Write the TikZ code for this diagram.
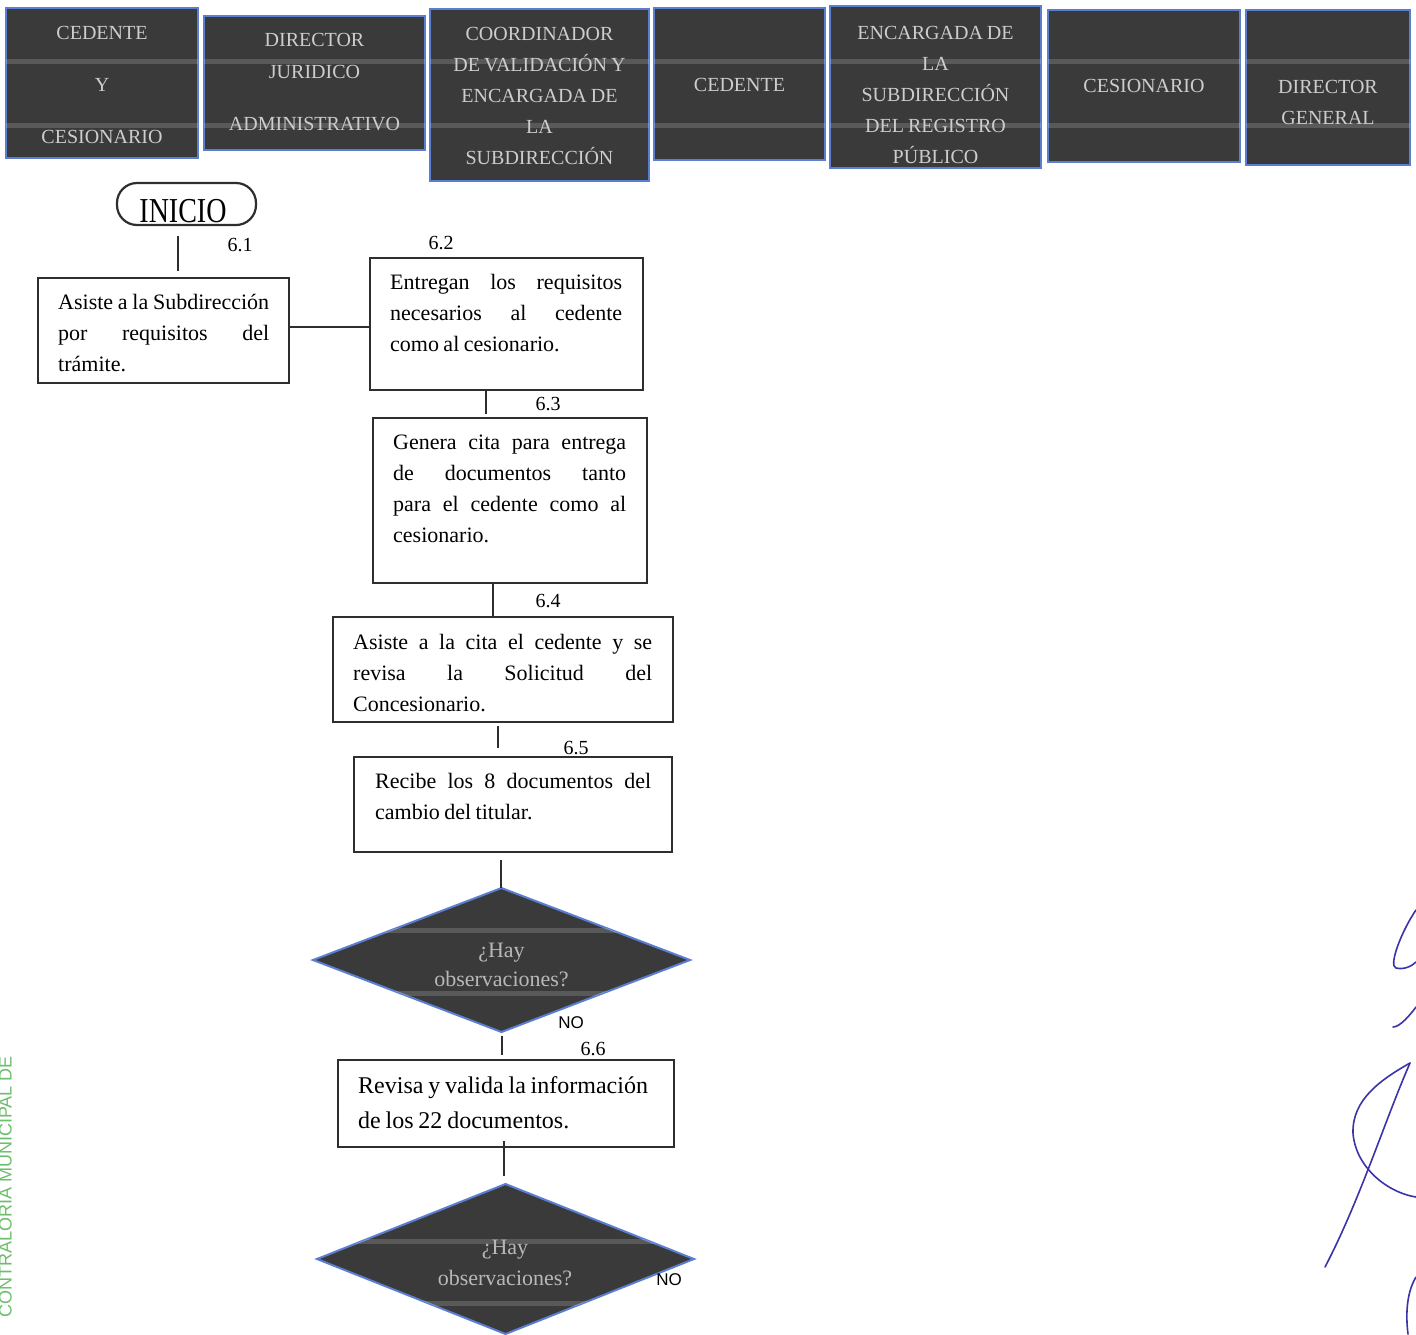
\documentclass[tikz,border=0pt]{standalone}
\usepackage{fontspec}
\setmainfont{Liberation Serif}[WordSpace=0.8]
\newfontfamily\sansf{Liberation Sans}
\usetikzlibrary{shapes.geometric,calc}
\definecolor{hdrfill}{HTML}{3A3A3A}
\definecolor{hdrline}{HTML}{5A7FD0}
\definecolor{hdrtext}{HTML}{CDCDCD}
\definecolor{dectext}{HTML}{B8B8B8}
\definecolor{boxline}{HTML}{2E2E2E}
\definecolor{stampgreen}{HTML}{6DBE6D}
\definecolor{ink}{HTML}{3A34A8}
\begin{document}
\begin{tikzpicture}[x=1pt,y=-1pt,
 hdr/.style={draw=hdrline, line width=2pt, fill=hdrfill, inner sep=0pt, outer sep=0pt},
 hdrtxt/.style={text=hdrtext, font=\fontsize{20}{31}\selectfont, align=center, inner sep=0pt},
 fbox/.style={draw=boxline, line width=2.2pt, fill=white, inner sep=0pt, outer sep=0pt},
 ftxt/.style={font=\fontsize{22}{31}\selectfont, align=justify, inner sep=0pt, anchor=north west},
 dec/.style={diamond, draw=hdrline, line width=2pt, fill=hdrfill, inner sep=0pt, outer sep=0pt, aspect=2.6},
 dtxt/.style={text=dectext, font=\fontsize{22}{29}\selectfont, align=center, inner sep=0pt},
 lbl/.style={font=\fontsize{20}{20}\selectfont, inner sep=0pt},
 nolbl/.style={font=\sansf\fontsize{17}{17}\selectfont, inner sep=0pt},
 conn/.style={draw=boxline, line width=1.2pt},
 stripe/.style={fill=white, opacity=0.16},
 sig/.style={draw=ink, line width=1.6pt, line cap=round}
]
\useasboundingbox (0,0) rectangle (1416,1334);
\fill[white] (0,0) rectangle (1416,1334);

% ---------- header ----------
\node[hdr, minimum width=192pt, minimum height=150pt] (h1) at (102,83) {};
\node[hdr, minimum width=221pt, minimum height=134pt] (h2) at (314.5,83) {};
\node[hdr, minimum width=219pt, minimum height=172pt] (h3) at (539.5,95) {};
\node[hdr, minimum width=171pt, minimum height=152pt] (h4) at (739.5,84) {};
\node[hdr, minimum width=211pt, minimum height=162pt] (h5) at (935.5,87) {};
\node[hdr, minimum width=192pt, minimum height=152pt] (h6) at (1144,86) {};
\node[hdr, minimum width=164pt, minimum height=155pt] (h7) at (1328,87.5) {};

\foreach \n in {h1,h2,h3,h4,h5,h6,h7}{
  \begin{scope}
    \clip (\n.north west) rectangle (\n.south east);
    \fill[stripe] (0,59) rectangle (1416,64);
    \fill[stripe] (0,123) rectangle (1416,128);
  \end{scope}
}

\node[hdrtxt] (h1t) at (102,85) {CEDENTE\\[21pt]Y\\[21pt]CESIONARIO};
\node[hdrtxt] (h2t) at (314.5,82) {DIRECTOR\\[1pt]JURIDICO\\[21pt]ADMINISTRATIVO};
\node[hdrtxt] (h3t) at (539.5,95.5) {COORDINADOR\\DE VALIDACIÓN Y\\ENCARGADA DE\\LA\\SUBDIRECCIÓN};
\node[hdrtxt] (h4t) at (739.5,85) {CEDENTE};
\begin{scope}
  \clip (h5.north west) rectangle (h5.south east);
  \node[hdrtxt] (h5t) at (935.5,95) {ENCARGADA DE\\LA\\SUBDIRECCIÓN\\DEL REGISTRO\\PÚBLICO};
\end{scope}
\node[hdrtxt] (h6t) at (1144,86) {CESIONARIO};
\node[hdrtxt] (h7t) at (1328,102.5) {DIRECTOR\\GENERAL};

% ---------- flow ----------
\node[draw=boxline, line width=2.2pt, rounded corners=20pt, minimum width=139pt, minimum height=42pt,
      inner sep=0pt, outer sep=0pt] (ini) at (186.5,204) {};
\node[font=\fontsize{28}{28}\selectfont, inner sep=0pt] (init) at (183,211) {\scalebox{1}[1.25]{INICIO}};

\node[fbox, minimum width=251pt, minimum height=105pt] (b61) at (163.5,330.5) {};
\node[fbox, minimum width=273pt, minimum height=132pt] (b62) at (506.5,324) {};
\node[fbox, minimum width=274pt, minimum height=165pt] (b63) at (510,500.5) {};
\node[fbox, minimum width=340pt, minimum height=105pt] (b64) at (503,669.5) {};
\node[fbox, minimum width=318pt, minimum height=95pt] (b65) at (513,804.5) {};
\node[fbox, minimum width=336pt, minimum height=87pt] (b66) at (506,1103.5) {};

\node[ftxt, text width=211pt] (t61) at (58,294) {Asiste a la Subdirección\linebreak por requisitos del\linebreak trámite.};
\node[ftxt, text width=232pt] (t62) at (390,274) {Entregan los requisitos\linebreak necesarios al cedente\linebreak como al cesionario.};
\node[ftxt, text width=233pt] (t63) at (393,435) {Genera cita para entrega\linebreak de documentos tanto\linebreak para el cedente como al\linebreak cesionario.};
\node[ftxt, text width=299pt] (t64) at (353,634) {Asiste a la cita el cedente y se\linebreak revisa la Solicitud del\linebreak Concesionario.};
\node[ftxt, text width=276pt] (t65) at (375,773) {Recibe los 8 documentos del\linebreak cambio del titular.};
\node[font=\fontsize{24}{35}\selectfont, align=left, inner sep=0pt, anchor=north west] (t66) at (358,1076) {Revisa y valida la información\\de los 22 documentos.};

\node[dec, minimum width=377pt, minimum height=144pt] (d1) at (501.5,960) {};
\node[dec, minimum width=377pt, minimum height=150pt] (d2) at (505.5,1259) {};
\begin{scope}
  \clip (d1.north) -- (d1.east) -- (d1.south) -- (d1.west) -- cycle;
  \fill[stripe] (0,928) rectangle (1416,933);
  \fill[stripe] (0,991) rectangle (1416,996);
\end{scope}
\begin{scope}
  \clip (d2.north) -- (d2.east) -- (d2.south) -- (d2.west) -- cycle;
  \fill[stripe] (0,1239) rectangle (1416,1244);
  \fill[stripe] (0,1301) rectangle (1416,1306);
\end{scope}
\node[dtxt] (dt1) at (501.5,965) {¿Hay\\observaciones?};
\node[dtxt, font=\fontsize{22}{31}\selectfont] (dt2) at (505,1263) {¿Hay\\observaciones?};

% labels
\node[lbl] (l61) at (240,245) {6.1};
\node[lbl] (l62) at (441,243) {6.2};
\node[lbl] (l63) at (548,404) {6.3};
\node[lbl] (l64) at (548,601) {6.4};
\node[lbl] (l65) at (576,748) {6.5};
\node[lbl] (l66) at (593,1049) {6.6};
\node[nolbl] (no1) at (571,1023) {NO};
\node[nolbl] (no2) at (669,1280) {NO};

% connectors
\coordinate (xa) at (178,0);
\coordinate (ya) at (0,327);
\coordinate (xb) at (486,0);
\coordinate (xc) at (493,0);
\coordinate (xd) at (498,0);
\coordinate (xe) at (501,0);
\coordinate (xf) at (502,0);
\coordinate (xg) at (504,0);
\draw[conn, shorten <=11pt, shorten >=7pt] (ini.south -| xa) -- (b61.north -| xa);
\draw[conn] (b61.east |- ya) -- (b62.west |- ya);
\draw[conn, shorten >=4pt] (b62.south -| xb) -- (b63.north -| xb);
\draw[conn] (b63.south -| xc) -- (b64.north -| xc);
\draw[conn, shorten <=4pt, shorten >=9pt] (b64.south -| xd) -- (b65.north -| xd);
\draw[conn, shorten <=8pt] (b65.south -| xe) -- (d1.north -| xe);
\draw[conn, shorten <=4pt, shorten >=5pt] (d1.south -| xf) -- (b66.north -| xf);
\draw[conn, shorten <=-6pt, shorten >=8pt] (b66.south -| xg) -- (d2.north -| xg);

% stamp
\node[rotate=90, anchor=west, text=stampgreen, font=\sansf\fontsize{18}{18}\selectfont, inner sep=0pt] (stamp) at (4,1318) {CONTRALORÍA MUNICIPAL DE};

% signature
\draw[sig] (1416,910) .. controls (1402,930) and (1388,966) .. (1396,968) .. controls (1404,970) and (1412,966) .. (1416,962);
\draw[sig] (1393,1027) .. controls (1400,1027) and (1410,1015) .. (1416,1007);
\draw[sig] (1410,1063) .. controls (1385,1120) and (1360,1200) .. (1325,1267);
\draw[sig] (1410,1063) .. controls (1380,1080) and (1352,1100) .. (1353,1133) .. controls (1355,1165) and (1385,1192) .. (1416,1197);
\draw[sig] (1416,1277) .. controls (1408,1290) and (1405,1310) .. (1408,1334);
\end{tikzpicture}
\end{document}
